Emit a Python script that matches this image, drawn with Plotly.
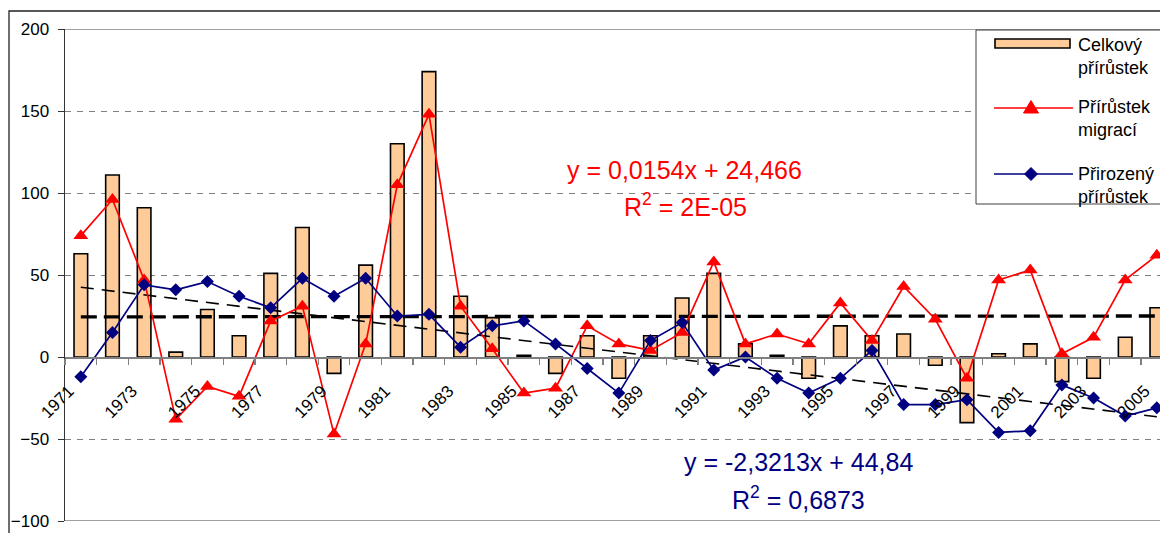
import plotly.graph_objects as go

# ---------------- data ----------------
years = list(range(1971, 2006))
celkovy = [63, 111, 91, 3, 29, 13, 51, 79, -10, 56, 130, 174, 37, 24, 1, -10, 13, -13, 13, 36,
           51, 8, 1, -13, 19, 13, 14, -5, -40, 2, 8, -15, -13, 12, 30]
migrace = [74, 96, 47, -38, -18, -24, 22, 31, -47, 8, 105, 148, 31, 5, -22, -19, 19, 8, 4, 15,
           58, 8, 14, 8, 33, 10, 43, 23, -13, 47, 53, 2, 12, 47, 62]
prirozeny = [-12, 15, 44, 41, 46, 37, 30, 48, 37, 48, 25, 26, 6, 19, 22, 8, -7, -22, 10, 21,
             -8, 0, -13, -22, -13, 4, -29, -29, -26, -46, -45, -17, -25, -36, -31]
trend_mig = (0.0154, 24.466)      # slope, intercept (x = 1..n)
trend_nat = (-2.3213, 44.84)
names = ["Celkový<br>přírůstek", "Přírůstek<br>migrací", "Přirozený<br>přírůstek"]
eq_mig = ["y = 0,0154x + 24,466", "R<sup>2</sup> = 2E-05"]
eq_nat = ["y = -2,3213x + 44,84", "R<sup>2</sup> = 0,6873"]

# ---------------- geometry ----------------
W, H = 1160, 533
ML, MR, MT, MB = 65, 0, 29, 12
PW, PH = W - ML - MR, H - MT - MB


def px(x):
    return (x - ML) / PW


def py(y):
    return (H - MB - y) / PH


FONT = "Arial, Liberation Sans, sans-serif"
PEACH = "#FFCC99"
RED = "#FF0000"
NAVY = "#000080"

idx = list(range(1, len(years) + 1))
tm = [trend_mig[0] * i + trend_mig[1] for i in idx]
tn = [trend_nat[0] * i + trend_nat[1] for i in idx]

fig = go.Figure()
fig.add_trace(go.Bar(x=years, y=celkovy, width=0.43,
                     marker=dict(color=PEACH, line=dict(color="black", width=1.6)),
                     showlegend=False, hoverinfo="skip"))
fig.add_trace(go.Scatter(x=years, y=tm, mode="lines",
                         line=dict(color="black", width=3.3, dash="16px,7px"), showlegend=False,
                         hoverinfo="skip"))
fig.add_trace(go.Scatter(x=years, y=tn, mode="lines",
                         line=dict(color="black", width=1.6, dash="13px,8px"), showlegend=False,
                         hoverinfo="skip"))
fig.add_trace(go.Scatter(x=years, y=migrace, mode="lines+markers",
                         line=dict(color=RED, width=1.7),
                         marker=dict(symbol="triangle-up", size=13, color=RED),
                         showlegend=False, cliponaxis=False, hoverinfo="skip"))
fig.add_trace(go.Scatter(x=years, y=prirozeny, mode="lines+markers",
                         line=dict(color=NAVY, width=1.7),
                         marker=dict(symbol="diamond", size=10, color=NAVY),
                         showlegend=False, cliponaxis=False, hoverinfo="skip"))

shapes = []
# outer chart border
shapes.append(dict(type="rect", xref="paper", yref="paper", x0=px(9), x1=px(1300), y0=py(700), y1=py(11),
                   line=dict(color="#222222", width=1.3), layer="below"))
# plot border lines at top and bottom
for yv in (200, -100):
    shapes.append(dict(type="line", xref="paper", yref="y", x0=0, x1=1, y0=yv, y1=yv,
                       line=dict(color="#808080", width=1.5), layer="below"))
# legend box
shapes.append(dict(type="rect", xref="paper", yref="paper", x0=px(976), x1=px(1300), y0=py(204), y1=py(30),
                   line=dict(color="#404040", width=1), fillcolor="white", layer="above"))
# legend symbols
shapes.append(dict(type="rect", xref="paper", yref="paper", x0=px(995), x1=px(1070), y0=py(48), y1=py(39),
                   line=dict(color="black", width=1.6), fillcolor=PEACH, layer="above"))
shapes.append(dict(type="line", xref="paper", yref="paper", x0=px(994), x1=px(1073), y0=py(108), y1=py(108),
                   line=dict(color=RED, width=1.7), layer="above"))
shapes.append(dict(type="line", xref="paper", yref="paper", x0=px(994), x1=px(1073), y0=py(174), y1=py(174),
                   line=dict(color=NAVY, width=1.7), layer="above"))
shapes.append(dict(type="path", xref="paper", yref="paper", xsizemode="pixel", ysizemode="pixel",
                   xanchor=px(1031), yanchor=py(108), path="M -7.5,-5 L 7.5,-5 L 0,7.5 Z",
                   fillcolor=RED, line=dict(color=RED, width=1), layer="above"))
shapes.append(dict(type="path", xref="paper", yref="paper", xsizemode="pixel", ysizemode="pixel",
                   xanchor=px(1031), yanchor=py(174), path="M -6.5,0 L 0,6.5 L 6.5,0 L 0,-6.5 Z",
                   fillcolor=NAVY, line=dict(color=NAVY, width=1), layer="above"))

ann = []
leg_y = [(45, 68), (107, 130), (174, 197)]
for nm, (y1, y2) in zip(names, leg_y):
    l1, l2 = nm.split("<br>")
    for txt, yy in ((l1, y1), (l2, y2)):
        ann.append(dict(text=txt, xref="paper", yref="paper", x=px(1076), y=py(yy), xanchor="left",
                        yanchor="middle", showarrow=False, font=dict(family=FONT, size=18, color="black")))
for txt, (xx, yy) in zip(eq_mig, [(684, 170), (685, 205)]):
    ann.append(dict(text=txt, xref="paper", yref="paper", x=px(xx), y=py(yy), xanchor="center",
                    yanchor="middle", showarrow=False, font=dict(family=FONT, size=25, color=RED)))
for txt, (xx, yy) in zip(eq_nat, [(798, 462), (798, 498)]):
    ann.append(dict(text=txt, xref="paper", yref="paper", x=px(xx), y=py(yy), xanchor="center",
                    yanchor="middle", showarrow=False, font=dict(family=FONT, size=25, color=NAVY)))

fig.update_layout(
    width=W, height=H,
    margin=dict(l=ML, r=MR, t=MT, b=MB, pad=0, autoexpand=False),
    paper_bgcolor="white", plot_bgcolor="white",
    font=dict(family=FONT, size=17, color="black"),
    shapes=shapes, annotations=ann, bargap=0,
    xaxis=dict(range=[1970.5, 2005.1], anchor="free", position=1/3,
               tickmode="linear", tick0=1971, dtick=2, tickformat="d", ticks="",
               tickangle=-45, tickfont=dict(size=17), ticklabelstandoff=16, ticklabelshift=-12,
               showline=True, linecolor="#808080", linewidth=1.5, showgrid=False, zeroline=False,
               automargin=False,
               minor=dict(ticks="outside", ticklen=6, tickcolor="#808080", tickwidth=1.3,
                          tickmode="linear", tick0=1970.5, dtick=1, showgrid=False)),
    yaxis=dict(range=[-100, 200], tickmode="linear", tick0=-100, dtick=50,
               showgrid=True, gridcolor="#808080", gridwidth=1, griddash="6px,6px",
               zeroline=False, showline=True, linecolor="#333333", linewidth=1.5,
               ticks="outside", ticklen=6, tickcolor="#333333", tickfont=dict(size=17),
               ticklabelstandoff=5, automargin=False),
)

fig.write_html("out.html", config={"displayModeBar": False, "staticPlot": True},
               post_script="document.body.style.margin='0px';document.body.style.overflow='hidden';")
